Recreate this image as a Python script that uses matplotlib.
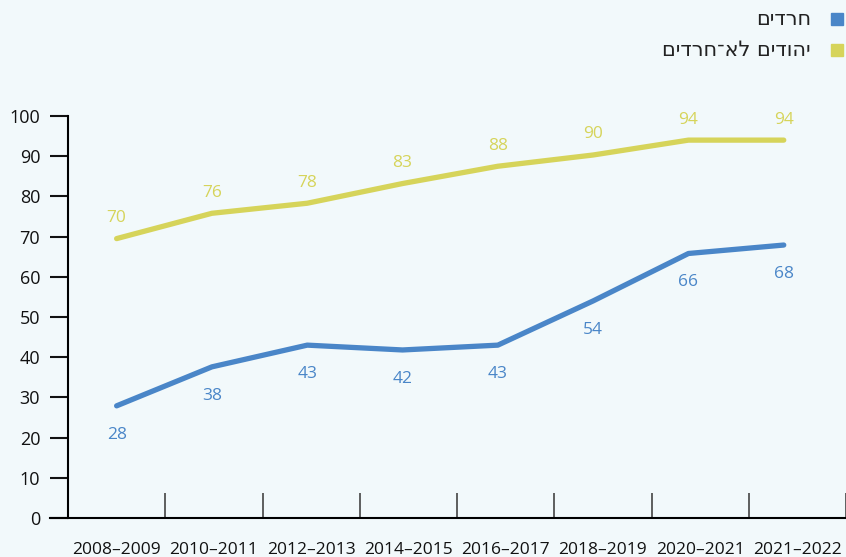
import matplotlib.pyplot as plt
from matplotlib.lines import Line2D

years = ["2008–2009", "2010–2011", "2012–2013", "2014–2015",
         "2016–2017", "2018–2019", "2020–2021", "2021–2022"]
haredim = [27.9, 37.6, 43.0, 41.8, 43.0, 54.0, 65.8, 67.9]
non_haredim = [69.5, 75.8, 78.3, 83.2, 87.5, 90.3, 94.0, 94.0]

name_haredim = "חרדים"
name_non_haredim = "יהודים לא־חרדים"

blue = "#4a86c8"
yellow = "#d6d45a"
bg = "#f2f9fb"
fonts = ["Open Sans", "DejaVu Sans"]


def rtl(s):
    # matplotlib has no bidi support, flip Hebrew by hand
    return s[::-1]


W, H = 846, 557
fig = plt.figure(figsize=(W / 100, H / 100), dpi=100, facecolor=bg)
ax = fig.add_axes([68 / W, (H - 518) / H, (846 - 68) / W, (518 - 116) / H])
ax.set_facecolor(bg)

n = len(years)
# line points sit a little inside the category centres, as in the original
xs = [0.5 + i * 6.86 / (n - 1) for i in range(n)]

ax.plot(xs, non_haredim, color=yellow, lw=3.8, solid_capstyle="round", clip_on=False)
ax.plot(xs, haredim, color=blue, lw=3.8, solid_capstyle="round", clip_on=False)

for x, v in zip(xs, non_haredim):
    ax.annotate(f"{v:.0f}", (x, v), xytext=(0, 9), textcoords="offset points",
                ha="center", va="bottom", color=yellow, fontsize=12.5, family=fonts)
for x, v in zip(xs, haredim):
    ax.annotate(f"{v:.0f}", (x, v), xytext=(0, -15), textcoords="offset points",
                ha="center", va="top", color=blue, fontsize=12.5, family=fonts)

ax.set_xlim(0, n)
ax.set_ylim(0, 100)
ax.set_yticks(range(0, 101, 10))
ax.set_xticks([i + 0.5 for i in range(n)])
ax.set_xticklabels(years)
ax.set_xticks(range(1, n + 1), minor=True)

ax.tick_params(axis="y", length=13, width=1.5, color="#111", labelsize=13, pad=7)
ax.tick_params(axis="x", which="major", length=0, labelsize=12.5, pad=17)
ax.tick_params(axis="x", which="minor", direction="in", length=18, width=1.2, color="#444")
for lab in ax.get_xticklabels() + ax.get_yticklabels():
    lab.set_family(fonts)
    lab.set_color("#111")

for side in ["top", "right"]:
    ax.spines[side].set_visible(False)
ax.spines["left"].set_linewidth(1.5)
ax.spines["bottom"].set_linewidth(1.5)
ax.spines["bottom"].set_bounds(-0.19, n)

# legend, marker on the right of the text
for yy, name, c in [(19, name_haredim, blue), (50, name_non_haredim, yellow)]:
    fig.add_artist(Line2D([836.5 / W], [1 - yy / H], marker="s", ms=8.5,
                          color=c, transform=fig.transFigure))
    fig.text(811 / W, 1 - yy / H, rtl(name), ha="right", va="center",
             fontsize=15, color="#222", family="DejaVu Sans")

fig.savefig("out.png", dpi=100, facecolor=bg)
